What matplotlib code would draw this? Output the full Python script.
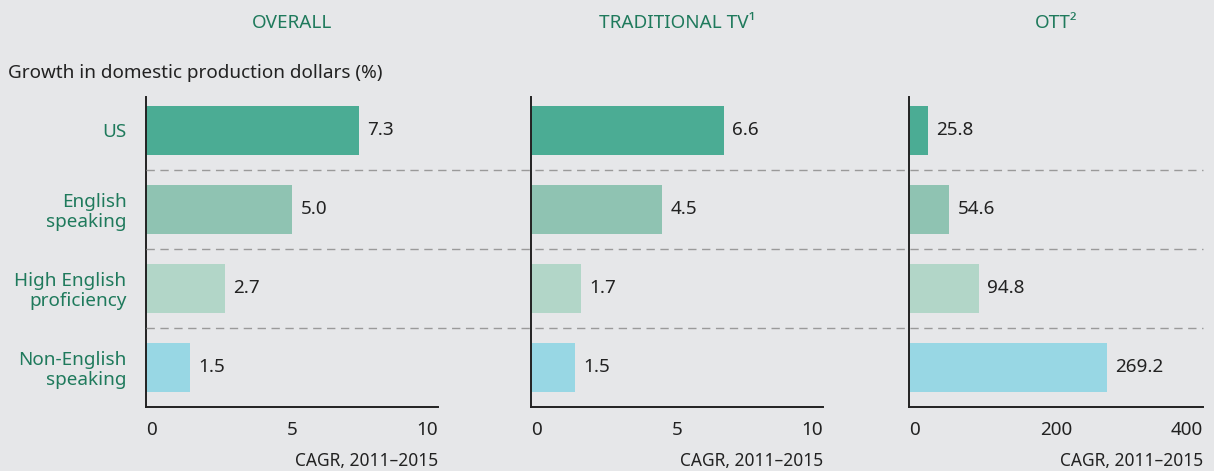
import matplotlib.pyplot as plt
from matplotlib.lines import Line2D
from matplotlib.transforms import blended_transform_factory

plt.rcParams['font.family'] = ['Noto Sans', 'DejaVu Sans']

categories = ['US', 'English\nspeaking', 'High English\nproficiency', 'Non-English\nspeaking']
overall = [7.3, 5.0, 2.7, 1.5]
traditional_tv = [6.6, 4.5, 1.7, 1.5]
ott = [25.8, 54.6, 94.8, 269.2]
panel_titles = ['OVERALL', 'TRADITIONAL TV\u00b9', 'OTT\u00b2']
panel_ticks = [[0, 5, 10], [0, 5, 10], [0, 200, 400]]

bar_colors = ['#4bac94', '#8fc3b2', '#b2d6c8', '#98d7e4']
bg = '#e6e7e9'
green = '#1f7a5c'
dark = '#222222'

fig = plt.figure(figsize=(12.14, 4.71), dpi=100, facecolor=bg)
W, H = 1214, 471
bottom, height = (471 - 407) / H, 310 / H
axes = [
    fig.add_axes([146 / W, bottom, 292 / W, height]),
    fig.add_axes([531 / W, bottom, 292 / W, height]),
    fig.add_axes([909 / W, bottom, 294 / W, height]),
]

for ax, vals, title, ticks in zip(axes, [overall, traditional_tv, ott], panel_titles, panel_ticks):
    ax.patch.set_visible(False)
    y = range(len(categories))
    ax.barh(y, vals, height=0.62, color=bar_colors, zorder=2)
    ax.set_ylim(3.5, -0.42)
    ax.set_xlim(ticks[0], ticks[-1])
    for sp in ['top', 'right']:
        ax.spines[sp].set_visible(False)
    for sp in ['left', 'bottom']:
        ax.spines[sp].set_color(dark)
        ax.spines[sp].set_linewidth(1.4)
        ax.spines[sp].set_zorder(3)
    for yi, v in zip(y, vals):
        ax.annotate(f'{v:.1f}', (v, yi), xytext=(6, 0), textcoords='offset points',
                    va='center', ha='left', fontsize=13.6, color=dark)
    ax.set_xticks(ticks)
    ax.set_xticklabels([str(t) for t in ticks])
    labs = ax.get_xticklabels()
    labs[0].set_ha('left')
    labs[-1].set_ha('right')
    ax.tick_params(axis='x', length=0, pad=10, labelsize=13.6, colors=dark)
    ax.text(1, -54 / 310, 'CAGR, 2011\u20132015', transform=ax.transAxes,
            ha='right', va='center', fontsize=12.5, color=dark)
    pos = ax.get_position()
    fig.text((pos.x0 + pos.x1) / 2, (471 - 23) / H, title,
             ha='center', va='center', color=green, fontsize=13.6)

axes[0].set_yticks(range(len(categories)))
axes[0].set_yticklabels(categories, color=green, fontsize=13.6, linespacing=1.1)
axes[0].tick_params(axis='y', length=0, pad=14)
for ax in axes[1:]:
    ax.set_yticks([])

# dashed separators spanning all panels
tr = blended_transform_factory(fig.transFigure, axes[0].transData)
x0 = axes[0].get_position().x0
x1 = axes[2].get_position().x1
for sep in [0.5, 1.5, 2.5]:
    fig.add_artist(Line2D([x0, x1], [sep, sep], transform=tr, color='#9a9a9a',
                          linewidth=1, dashes=(6, 4), zorder=1))

fig.text(8 / W, (471 - 73) / H, 'Growth in domestic production dollars (%)',
         ha='left', va='center', fontsize=13.6, color=dark)

fig.savefig('out.png', dpi=100, facecolor=bg)
